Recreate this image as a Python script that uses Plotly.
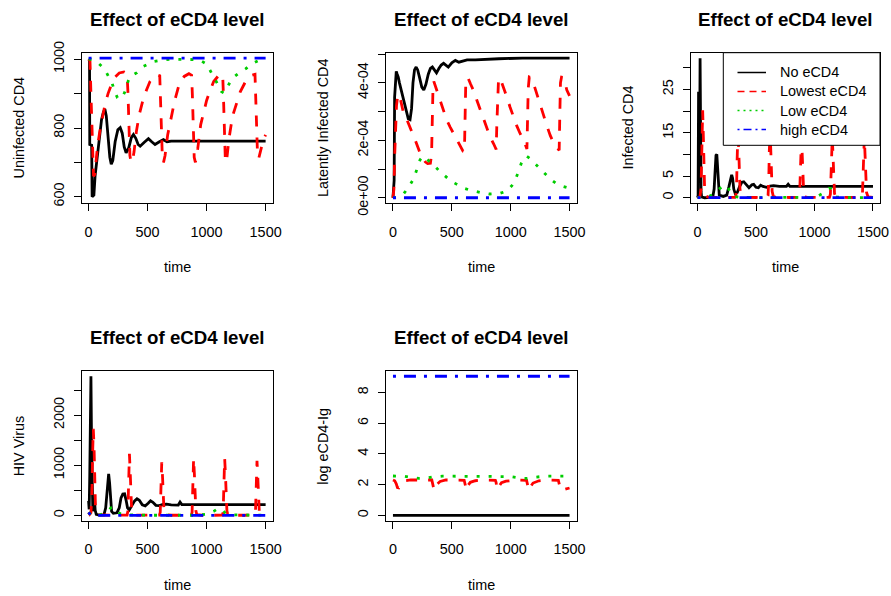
import plotly.graph_objects as go

# ---------------- text ----------------
panel_title = "Effect of eCD4 level"
x_title = "time"
y_titles = ["Uninfected CD4", "Latently Infected CD4", "Infected CD4", "HIV Virus", "log eCD4-Ig"]
series_names = ["No eCD4", "Lowest eCD4", "Low eCD4", "high eCD4"]

# ---------------- data: panel 1 (Uninfected CD4) ----------------
p1_none_t = [0, 8, 10, 26, 30, 45, 55, 68, 80, 95, 110, 125, 138, 150, 165, 180, 192, 205, 225, 248, 268, 285, 302, 318, 340, 362, 380, 400, 420, 437, 470, 507, 535, 563, 600, 634, 665, 700, 1500]
p1_none_v = [1000, 998, 752, 750, 600, 605, 660, 700, 740, 790, 825, 845, 855, 835, 780, 715, 695, 705, 760, 795, 801, 785, 745, 728, 742, 772, 781, 770, 752, 747, 758, 769, 760, 752, 760, 766, 760, 762, 762]
p1_lowest_t = [0, 12, 20, 30, 42, 52, 60, 75, 95, 115, 140, 165, 195, 225, 260, 300, 326, 334, 342, 350, 360, 370, 385, 405, 430, 460, 490, 520, 550, 580, 603, 609, 617, 625, 635, 648, 670, 700, 730, 770, 810, 850, 873, 879, 887, 895, 905, 925, 950, 975, 1000, 1030, 1060, 1100, 1136, 1142, 1150, 1158, 1168, 1190, 1220, 1250, 1285, 1330, 1370, 1410, 1416, 1424, 1432, 1442, 1460, 1480, 1500]
p1_lowest_v = [1000, 995, 900, 760, 660, 665, 700, 745, 790, 830, 870, 900, 928, 948, 960, 963, 958, 900, 800, 720, 700, 702, 730, 790, 840, 880, 910, 935, 950, 955, 952, 900, 790, 715, 700, 720, 780, 835, 880, 930, 950, 958, 953, 900, 790, 715, 700, 740, 810, 850, 880, 910, 935, 952, 956, 900, 790, 715, 700, 770, 835, 870, 905, 935, 952, 956, 900, 790, 715, 712, 740, 765, 780]
p1_low_t = [0, 40, 70, 110, 150, 180, 200, 220, 245, 265, 285, 305, 325, 346, 380, 410, 465, 550, 630, 700, 900, 950, 1000, 1030, 1050, 1090, 1125, 1145, 1175, 1215, 1270, 1330, 1385, 1440, 1500]
p1_low_v = [1000, 998, 993, 980, 962, 945, 930, 906, 888, 884, 890, 903, 925, 948, 955, 961, 979, 993, 998, 1000, 999, 996, 986, 968, 955, 930, 906, 902, 918, 944, 959, 972, 987, 996, 1000]
p1_high_t = [0, 250, 500, 750, 1000, 1250, 1500]
p1_high_v = [1003, 1003, 1003, 1003, 1003, 1003, 1003]

# ---------------- data: panel 2 (Latently infected CD4, units of 1e-4) ----------------
p2_unit = 1e-4
p2_none_t = [0, 5, 10, 14, 20, 28, 36, 45, 55, 70, 85, 100, 115, 130, 145, 158, 170, 183, 197, 210, 225, 245, 262, 280, 300, 318, 335, 350, 370, 390, 410, 430, 450, 470, 500, 530, 560, 590, 630, 700, 770, 900, 1100, 1500]
p2_none_v = [0, 0.5, 0.6, 3.5, 4.1, 4.4, 4.3, 4.2, 4.0, 3.75, 3.5, 3.2, 2.95, 2.75, 2.72, 3.1, 4.0, 4.45, 4.55, 4.45, 4.2, 3.85, 3.75, 3.95, 4.3, 4.5, 4.55, 4.45, 4.35, 4.5, 4.62, 4.68, 4.6, 4.55, 4.7, 4.78, 4.72, 4.75, 4.8, 4.8, 4.82, 4.84, 4.86, 4.86]
p2_lowest_t = [0, 8, 15, 22, 30, 40, 52, 65, 90, 120, 147, 170, 190, 210, 232, 255, 274, 295, 318, 328, 334, 340, 347, 360, 380, 402, 430, 458, 487, 515, 545, 572, 595, 607, 612, 618, 627, 640, 660, 685, 712, 742, 770, 798, 825, 855, 870, 877, 882, 888, 897, 910, 935, 968, 995, 1025, 1052, 1081, 1110, 1138, 1143, 1149, 1158, 1175, 1200, 1223, 1250, 1280, 1308, 1336, 1360, 1385, 1412, 1417, 1423, 1432, 1449, 1465, 1477, 1500]
p2_lowest_v = [0, 0.3, 1.5, 2.8, 3.2, 3.55, 3.6, 3.4, 2.94, 2.7, 2.46, 2.2, 2.0, 1.75, 1.54, 1.38, 1.25, 1.19, 1.2, 1.5, 2.8, 3.85, 4.05, 3.9, 3.6, 3.38, 3.05, 2.69, 2.45, 2.23, 1.97, 1.77, 1.62, 1.6, 2.6, 3.9, 4.17, 4.15, 3.95, 3.73, 3.4, 3.04, 2.7, 2.4, 2.12, 1.88, 1.72, 1.68, 2.5, 3.6, 4.15, 4.17, 3.9, 3.5, 3.15, 2.8, 2.5, 2.23, 2.0, 1.7, 2.6, 3.8, 4.2, 4.17, 3.9, 3.6, 3.2, 2.8, 2.5, 2.17, 1.95, 1.8, 1.65, 2.8, 4.0, 4.2, 4.19, 3.95, 3.75, 3.55]
p2_low_t = [0, 36, 93, 135, 177, 205, 230, 255, 275, 300, 346, 390, 430, 480, 528, 570, 612, 660, 711, 770, 823, 870, 908, 945, 978, 1010, 1034, 1062, 1090, 1115, 1135, 1160, 1190, 1231, 1265, 1301, 1340, 1385, 1440, 1500]
p2_low_v = [0, 0.02, 0.15, 0.38, 0.67, 1.05, 1.32, 1.45, 1.4, 1.3, 1.14, 0.95, 0.79, 0.62, 0.5, 0.4, 0.32, 0.26, 0.21, 0.16, 0.13, 0.13, 0.15, 0.2, 0.28, 0.42, 0.58, 0.86, 1.2, 1.4, 1.45, 1.38, 1.25, 1.08, 0.93, 0.79, 0.64, 0.5, 0.4, 0.33]
p2_high_t = [0, 250, 500, 750, 1000, 1250, 1500]
p2_high_v = [0, 0, 0, 0, 0, 0, 0]

# ---------------- data: panel 3 (Infected CD4) ----------------
p3_none_t = [0, 5, 9, 13, 17, 22, 26, 30, 35, 60, 130, 142, 150, 158, 165, 172, 178, 186, 220, 250, 268, 282, 292, 300, 310, 322, 340, 360, 380, 395, 415, 440, 465, 480, 500, 520, 540, 560, 590, 620, 650, 700, 760, 775, 790, 1500]
p3_none_v = [0, 0.5, 24.5, 8, 6, 32.2, 10, 1.5, 0.2, 0, 0.1, 2, 6, 9.8, 10, 7, 2.5, 0.6, 0.3, 0.6, 2.5, 4.5, 5.3, 4.5, 2, 1, 1.2, 2.6, 3.6, 3.7, 3.0, 2.3, 3.0, 3.1, 2.4, 2.3, 2.9, 2.6, 2.4, 2.7, 2.8, 2.6, 2.6, 3.1, 2.6, 2.6]
p3_lowest_t = [0, 20, 30, 37, 44, 50, 55, 61, 68, 100, 200, 320, 328, 334, 339, 344, 350, 356, 363, 372, 390, 500, 595, 603, 609, 614, 619, 625, 631, 638, 648, 670, 780, 865, 873, 879, 884, 889, 895, 901, 908, 918, 940, 1050, 1128, 1136, 1142, 1147, 1152, 1158, 1164, 1171, 1181, 1200, 1300, 1402, 1410, 1416, 1421, 1426, 1432, 1438, 1445, 1458, 1500]
p3_lowest_v = [0, 0.2, 2, 10, 20.2, 14, 6, 1.5, 0.4, 0.1, 0.05, 0.1, 0.5, 3, 9, 14, 13, 7, 2, 0.5, 0.1, 0.05, 0.1, 0.5, 4, 11, 14, 12, 6, 1.5, 0.3, 0.1, 0.05, 0.1, 0.8, 5, 12, 14, 10, 4, 1, 0.2, 0.1, 0.05, 0.1, 0.8, 5, 12, 14, 10, 4, 1, 0.2, 0.1, 0.05, 0.1, 0.8, 5, 12, 14, 10, 4, 1.2, 0.2, 0.1]
p3_low_t = [0, 60, 100, 140, 170, 200, 225, 245, 260, 275, 290, 310, 350, 500, 900, 980, 1030, 1070, 1100, 1125, 1140, 1155, 1170, 1190, 1250, 1500]
p3_low_v = [0, 0.05, 0.3, 0.9, 1.7, 2.4, 2.8, 2.9, 2.5, 1.5, 0.7, 0.3, 0.1, 0.02, 0.02, 0.1, 0.4, 1.0, 1.7, 2.2, 2.1, 1.2, 0.5, 0.2, 0.05, 0.02]
p3_high_t = [0, 250, 500, 750, 1000, 1250, 1500]
p3_high_v = [0, 0, 0, 0, 0, 0, 0]

# ---------------- data: panel 4 (HIV Virus) ----------------
p4_none_t = [0, 5, 10, 15, 20, 25, 30, 36, 42, 50, 56, 65, 90, 130, 145, 155, 163, 170, 178, 186, 195, 210, 240, 260, 275, 290, 305, 318, 330, 345, 365, 390, 410, 430, 455, 480, 505, 525, 545, 570, 600, 630, 660, 700, 760, 775, 790, 1500]
p4_none_v = [290, 120, 800, 2200, 2778, 1500, 200, 80, 300, 330, 100, 20, 5, 10, 150, 500, 780, 827, 650, 250, 80, 40, 50, 150, 350, 425, 430, 300, 150, 110, 180, 290, 330, 300, 210, 190, 240, 290, 260, 200, 195, 220, 225, 210, 205, 265, 215, 215]
p4_lowest_t = [0, 10, 20, 28, 34, 40, 46, 52, 58, 65, 80, 200, 326, 333, 338, 342, 346, 352, 358, 365, 373, 400, 500, 600, 607, 612, 616, 620, 626, 632, 639, 647, 700, 800, 870, 877, 882, 886, 890, 896, 902, 909, 917, 960, 1060, 1133, 1140, 1145, 1149, 1153, 1159, 1165, 1172, 1180, 1220, 1320, 1407, 1414, 1419, 1423, 1427, 1433, 1439, 1446, 1454, 1500]
p4_lowest_v = [60, 20, 50, 400, 1200, 1730, 1400, 700, 200, 50, 10, 2, 5, 80, 500, 1000, 1227, 900, 400, 100, 20, 3, 3, 3, 60, 500, 900, 1060, 800, 350, 80, 15, 2, 2, 3, 60, 500, 1000, 1140, 850, 400, 90, 15, 2, 2, 3, 60, 500, 1000, 1140, 850, 400, 90, 15, 2, 2, 3, 60, 500, 950, 1090, 800, 380, 90, 15, 3]
p4_low_t = [0, 20, 100, 150, 190, 215, 240, 270, 320, 500, 900, 1000, 1060, 1100, 1130, 1160, 1200, 1300, 1500]
p4_low_v = [60, 5, 10, 60, 150, 160, 80, 30, 10, 2, 2, 20, 80, 140, 120, 40, 10, 3, 2]
p4_high_t = [0, 15, 40, 250, 500, 750, 1000, 1250, 1500]
p4_high_v = [60, 10, 0, 0, 0, 0, 0, 0, 0]

# ---------------- data: panel 5 (log eCD4-Ig) ----------------
p5_none_t = [0, 250, 500, 750, 1000, 1250, 1500]
p5_none_v = [0, 0, 0, 0, 0, 0, 0]
p5_lowest_t = [0, 15, 28, 38, 50, 62, 75, 100, 150, 330, 336, 343, 350, 360, 378, 400, 450, 605, 611, 618, 625, 637, 657, 700, 760, 870, 876, 883, 890, 902, 922, 960, 1050, 1135, 1141, 1148, 1155, 1167, 1190, 1240, 1300, 1405, 1411, 1418, 1425, 1440, 1470, 1500]
p5_lowest_v = [2.3, 2.25, 2.05, 1.8, 1.78, 1.95, 2.15, 2.25, 2.3, 2.3, 2.1, 1.7, 1.62, 1.75, 2.05, 2.2, 2.3, 2.28, 2.05, 1.7, 1.62, 1.95, 2.15, 2.25, 2.3, 2.28, 2.15, 1.75, 1.65, 1.9, 2.12, 2.22, 2.3, 2.27, 2.05, 1.72, 1.62, 1.85, 2.1, 2.25, 2.3, 2.28, 2.1, 1.75, 1.62, 1.65, 1.7, 1.78]
p5_low_t = [0, 100, 160, 220, 280, 340, 420, 900, 1000, 1080, 1140, 1200, 1300, 1500]
p5_low_v = [2.56, 2.54, 2.45, 2.4, 2.42, 2.5, 2.55, 2.56, 2.52, 2.42, 2.4, 2.48, 2.55, 2.56]
p5_high_t = [0, 250, 500, 750, 1000, 1250, 1500]
p5_high_v = [9.05, 9.05, 9.05, 9.05, 9.05, 9.05, 9.05]

# ---------------- ticks ----------------
x_ticks = [0, 500, 1000, 1500]
p1_ticks = [600, 700, 800, 900, 1000]
p1_ticktext = ["600", "", "800", "", "1000"]
p2_ticks = [0, 1e-4, 2e-4, 3e-4, 4e-4, 5e-4]
p2_ticktext = ["0e+00", "", "2e-04", "", "4e-04", ""]
p3_ticks = [0, 5, 10, 15, 20, 25, 30]
p3_ticktext = ["0", "5", "", "15", "", "25", ""]
p4_ticks = [0, 500, 1000, 1500, 2000, 2500]
p4_ticktext = ["0", "", "1000", "", "2000", ""]
p5_ticks = [0, 2, 4, 6, 8]
p5_ticktext = ["0", "2", "4", "6", "8"]

# ---------------- styling ----------------
W, H = 891, 596
FONT = "Liberation Sans, Arial, sans-serif"
colors = ["#000000", "#FF0000", "#00CD00", "#0000FF"]
dashes = ["solid", "11px,11px", "3px,9px", "3px,8px,12px,8px"]
LW = 2.8

panel_data = [
    [(p1_none_t, p1_none_v), (p1_lowest_t, p1_lowest_v), (p1_low_t, p1_low_v), (p1_high_t, p1_high_v)],
    [(p2_none_t, [v * p2_unit for v in p2_none_v]), (p2_lowest_t, [v * p2_unit for v in p2_lowest_v]),
     (p2_low_t, [v * p2_unit for v in p2_low_v]), (p2_high_t, p2_high_v)],
    [(p3_none_t, p3_none_v), (p3_lowest_t, p3_lowest_v), (p3_low_t, p3_low_v), (p3_high_t, p3_high_v)],
    [(p4_none_t, p4_none_v), (p4_lowest_t, p4_lowest_v), (p4_low_t, p4_low_v), (p4_high_t, p4_high_v)],
    [(p5_none_t, p5_none_v), (p5_lowest_t, p5_lowest_v), (p5_low_t, p5_low_v), (p5_high_t, p5_high_v)],
]
# plot boxes in pixels (left, right, top, bottom)
boxes = [
    (81.5, 272.7, 52.7, 203.3),
    (385.9, 576.6, 52.7, 203.3),
    (690.5, 880.0, 52.7, 203.3),
    (81.5, 272.7, 370.7, 520.9),
    (385.9, 576.6, 370.7, 520.9),
]
y_ranges = [[581, 1019], [-0.194e-4, 5.05e-4], [-1.29, 33.5], [-111, 2889], [-0.362, 9.41]]
y_tick_sets = [(p1_ticks, p1_ticktext), (p2_ticks, p2_ticktext), (p3_ticks, p3_ticktext),
               (p4_ticks, p4_ticktext), (p5_ticks, p5_ticktext)]

def px(x):
    return x / W

def py(y):
    return 1 - y / H

fig = go.Figure()
layout = dict(
    width=W, height=H, margin=dict(l=0, r=0, t=0, b=0, autoexpand=False),
    paper_bgcolor="white", plot_bgcolor="white", showlegend=False,
    font=dict(family=FONT, size=14.4, color="black"),
)
annotations = []
shapes = []

for i, (series, box) in enumerate(zip(panel_data, boxes)):
    n = i + 1
    xa = "x" if n == 1 else f"x{n}"
    ya = "y" if n == 1 else f"y{n}"
    for j, (t, v) in enumerate(series):
        fig.add_trace(go.Scatter(
            x=t, y=v, mode="lines", name=series_names[j], xaxis=xa, yaxis=ya,
            line=dict(color=colors[j], width=LW, dash=dashes[j]),
            hoverinfo="x+y+name",
        ))
    l, r, t_, b = box
    common = dict(showgrid=False, zeroline=False, showline=True, mirror=True,
                  linecolor="black", linewidth=1, ticks="outside", ticklen=7,
                  tickcolor="black", tickwidth=1, automargin=False,
                  tickfont=dict(family=FONT, size=14.4, color="black"))
    layout["xaxis" if n == 1 else f"xaxis{n}"] = dict(
        common, domain=[px(l), px(r)], anchor=ya, range=[-60, 1560],
        tickmode="array", tickvals=x_ticks, ticktext=[str(v) for v in x_ticks],
        ticklabelstandoff=8)
    tv, tt = y_tick_sets[i]
    layout["yaxis" if n == 1 else f"yaxis{n}"] = dict(
        common, domain=[py(b), py(t_)], anchor=xa, range=y_ranges[i],
        tickmode="array", tickvals=tv, ticktext=tt, tickangle=-90,
        ticklabelstandoff=4)
    cx = (l + r) / 2
    cy = (t_ + b) / 2
    annotations.append(dict(text=f"<b>{panel_title}</b>", x=px(cx), y=py(t_ - 33),
                            xref="paper", yref="paper", showarrow=False,
                            xanchor="center", yanchor="middle",
                            font=dict(family=FONT, size=18.7, color="black")))
    annotations.append(dict(text=x_title, x=px(cx), y=py(b + 64),
                            xref="paper", yref="paper", showarrow=False,
                            xanchor="center", yanchor="middle",
                            font=dict(family=FONT, size=14.4, color="black")))
    annotations.append(dict(text=y_titles[i], x=px(l - 63), y=py(cy),
                            xref="paper", yref="paper", showarrow=False, textangle=-90,
                            xanchor="center", yanchor="middle",
                            font=dict(family=FONT, size=14.4, color="black")))

# ---------------- legend (drawn like R's legend box) ----------------
leg_l, leg_r, leg_t, leg_b = 723.3, 880.0, 52.7, 145.3
shapes.append(dict(type="rect", xref="paper", yref="paper", layer="above",
                   x0=px(leg_l), x1=px(leg_r), y0=py(leg_b), y1=py(leg_t),
                   fillcolor="white", line=dict(color="black", width=1)))
leg_rows = [72.5, 91.5, 110.5, 129.5]
leg_dashes = ["solid", "7px,5px", "2px,4px", "2px,4px,8px,4px"]
for j, yy in enumerate(leg_rows):
    shapes.append(dict(type="line", xref="paper", yref="paper", layer="above",
                       x0=px(737.5), x1=px(766), y0=py(yy), y1=py(yy),
                       line=dict(color=colors[j], width=1.5, dash=leg_dashes[j])))
    annotations.append(dict(text=series_names[j], x=px(777.5), y=py(yy),
                            xref="paper", yref="paper", showarrow=False,
                            xanchor="left", yanchor="middle",
                            font=dict(family=FONT, size=14.4, color="black")))

layout["annotations"] = annotations
layout["shapes"] = shapes
fig.update_layout(**layout)
fig.write_html("out.html",
               config={"displayModeBar": False},
               post_script="document.body.style.margin='0';document.body.style.padding='0';"
                           "document.body.style.overflow='hidden';")
